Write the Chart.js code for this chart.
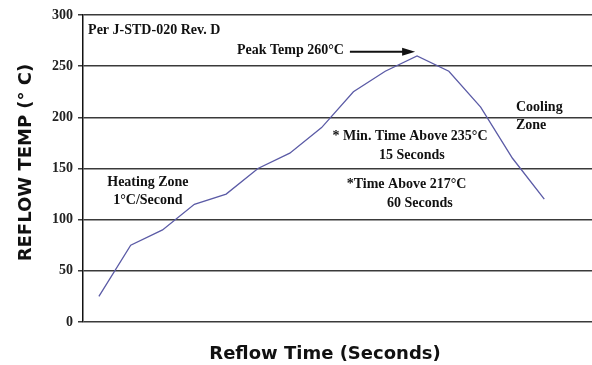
<!DOCTYPE html>
<html>
<head>
<meta charset="utf-8">
<script src="https://cdn.jsdelivr.net/npm/chart.js@4/dist/chart.umd.min.js"></script>
<style>
  html, body { margin: 0; padding: 0; background: #ffffff; }
  #wrap { width: 592px; height: 365px; position: relative; }
</style>
</head>
<body>
<div id="wrap"><canvas id="c" width="592" height="365"></canvas></div>
<script>
// ---- data ----
const timeSteps = [1, 2, 3, 4, 5, 6, 7, 8, 9, 10, 11, 12, 13, 14, 15];
const reflowTemp = [25, 75, 90, 115, 125, 150, 165, 190, 225, 245, 260, 245, 210, 160, 120];
const yTicks = [0, 50, 100, 150, 200, 250, 300];
const yTitle = 'REFLOW TEMP (\u00B0 C)';
const xTitle = 'Reflow Time (Seconds)';
const notes = [
  { text: 'Per J-STD-020 Rev. D', x: 0.66, y: 285, align: 'left' },
  { text: 'Peak Temp 260\u00B0C', x: 5.34, y: 265, align: 'left' },
  { text: 'Cooling', x: 14.11, y: 210, align: 'left' },
  { text: 'Zone', x: 14.11, y: 192.5, align: 'left' },
  { text: '* Min. Time Above 235\u00B0C', x: 10.78, y: 181.5, align: 'center' },
  { text: '15 Seconds', x: 10.84, y: 163, align: 'center' },
  { text: '*Time Above 217\u00B0C', x: 10.67, y: 134, align: 'center' },
  { text: '60 Seconds', x: 11.09, y: 116, align: 'center' },
  { text: 'Heating Zone', x: 2.54, y: 136, align: 'center' },
  { text: '1\u00B0C/Second', x: 2.54, y: 119, align: 'center' }
];
const peakArrow = { x1: 8.89, x2: 10.94, y: 264 };

const points = timeSteps.map((t, i) => ({ x: t, y: reflowTemp[i] }));

const notesPlugin = {
  id: 'notes',
  afterDatasetsDraw(chart) {
    const { ctx, scales: { x, y } } = chart;
    ctx.save();
    ctx.fillStyle = '#111111';
    ctx.font = 'bold 14px "Liberation Serif", "Times New Roman", serif';
    ctx.textBaseline = 'middle';
    notes.forEach(n => {
      ctx.textAlign = n.align;
      ctx.fillText(n.text, x.getPixelForValue(n.x), y.getPixelForValue(n.y));
    });
    // arrow
    const ax1 = x.getPixelForValue(peakArrow.x1);
    const ax2 = x.getPixelForValue(peakArrow.x2);
    const ay = y.getPixelForValue(peakArrow.y);
    ctx.strokeStyle = '#111111';
    ctx.lineWidth = 2;
    ctx.beginPath();
    ctx.moveTo(ax1, ay);
    ctx.lineTo(ax2 - 10, ay);
    ctx.stroke();
    ctx.beginPath();
    ctx.moveTo(ax2, ay);
    ctx.lineTo(ax2 - 13, ay - 4);
    ctx.lineTo(ax2 - 13, ay + 4);
    ctx.closePath();
    ctx.fill();

    // axis titles
    ctx.fillStyle = '#111111';
    ctx.textAlign = 'center';
    ctx.textBaseline = 'middle';
    ctx.font = 'bold 18px "DejaVu Sans", sans-serif';
    ctx.fillText(xTitle, 325, 354);
    ctx.translate(26, 162.5);
    ctx.rotate(-Math.PI / 2);
    ctx.fillText(yTitle, 0, 0);
    ctx.restore();
  }
};

new Chart(document.getElementById('c'), {
  type: 'line',
  data: {
    datasets: [{
      data: points,
      borderColor: '#5b5ba6',
      borderWidth: 1.3,
      pointRadius: 0,
      tension: 0,
      fill: false
    }]
  },
  options: {
    responsive: false,
    animation: false,
    layout: { padding: { top: 15, right: 0, left: 0, bottom: 0 } },
    plugins: { legend: { display: false }, tooltip: { enabled: false } },
    scales: {
      x: {
        type: 'linear',
        min: 0.5,
        max: 16.5,
        grid: { display: false, drawTicks: false },
        border: { display: false },
        ticks: { display: false },
        title: { display: false },
        afterFit(s) { s.height = 43; }
      },
      y: {
        min: 0,
        max: 300,
        afterBuildTicks(s) { s.ticks = yTicks.map(v => ({ value: v })); },
        grid: { color: '#3a3a3a', lineWidth: 1.5, tickLength: 5, drawTicks: true },
        border: { display: true, color: '#111111', width: 1.5 },
        ticks: {
          color: '#222222',
          padding: 5,
          font: { family: '"Liberation Serif", "Times New Roman", serif', weight: 'bold', size: 14 }
        },
        title: { display: false },
        afterFit(s) { s.width = 83; }
      }
    }
  },
  plugins: [notesPlugin]
});
</script>
</body>
</html>
